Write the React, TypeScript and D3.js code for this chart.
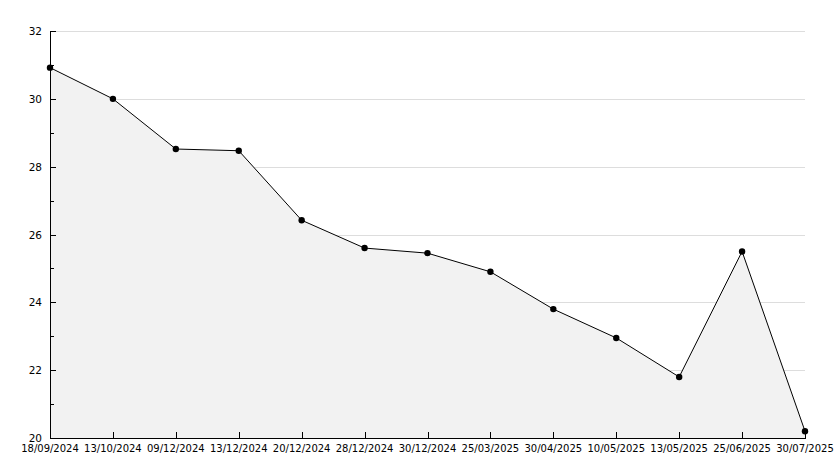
import React from "react";
import * as d3 from "d3";

const categories = ["18/09/2024","13/10/2024","09/12/2024","13/12/2024","20/12/2024","28/12/2024","30/12/2024","25/03/2025","30/04/2025","10/05/2025","13/05/2025","25/06/2025","30/07/2025"];
const values = [30.92, 30.0, 28.52, 28.47, 26.42, 25.6, 25.45, 24.9, 23.8, 22.95, 21.8, 25.5, 20.2];
const yTicks = [20, 22, 24, 26, 28, 30, 32];
const yMinorTicks = [21, 23, 25, 27, 29, 31];

export default function App() {
  const W = 834, H = 468;
  const left = 50, right = 805, top = 31, bottom = 438;
  const x = d3.scalePoint<string>().domain(categories).range([left, right]);
  const y = d3.scaleLinear().domain([20, 32]).range([bottom, top]);
  const pts: [number, number][] = categories.map((c, i) => [x(c)!, y(values[i])]);
  const line = d3.line<[number, number]>().x(d => d[0]).y(d => d[1]);
  const area = d3.area<[number, number]>().x(d => d[0]).y0(bottom).y1(d => d[1]);
  const font = "DejaVu Sans, Verdana, sans-serif";
  return (
    <svg width={W} height={H} style={{ position: "fixed", left: 0, top: 0, background: "#fff" }} shapeRendering="crispEdges">
      {yTicks.map(t => (
        <line key={"g" + t} x1={left} x2={right} y1={Math.round(y(t)) + 0.5} y2={Math.round(y(t)) + 0.5} stroke="#dddddd" />
      ))}
      <path d={area(pts)!} fill="#f2f2f2" stroke="none" />
      <path d={line(pts)!} fill="none" stroke="#000" strokeWidth={1} shapeRendering="auto" />
      {pts.map((p, i) => (
        <circle key={"m" + i} cx={p[0]} cy={p[1]} r={3.2} fill="#000" shapeRendering="auto" />
      ))}
      <line x1={left + 0.5} x2={left + 0.5} y1={top} y2={bottom + 1} stroke="#000" />
      <line x1={left} x2={right + 1} y1={bottom + 0.5} y2={bottom + 0.5} stroke="#000" />
      {yTicks.map(t => (
        <g key={"yt" + t}>
          <line x1={left} x2={left + 6} y1={Math.round(y(t)) + 0.5} y2={Math.round(y(t)) + 0.5} stroke="#000" />
          <text x={42} y={y(t) + 4} textAnchor="end" fontFamily={font} fontSize={10.5} fill="#000">{t}</text>
        </g>
      ))}
      {yMinorTicks.map(t => (
        <line key={"ym" + t} x1={left} x2={left + 4} y1={Math.round(y(t)) + 0.5} y2={Math.round(y(t)) + 0.5} stroke="#000" />
      ))}
      {categories.map(c => (
        <g key={"xt" + c}>
          <line x1={Math.round(x(c)!) + 0.5} x2={Math.round(x(c)!) + 0.5} y1={bottom} y2={bottom - 6} stroke="#000" />
          <text x={x(c)!} y={452} textAnchor="middle" fontFamily={font} fontSize={10} fill="#000">{c}</text>
        </g>
      ))}
    </svg>
  );
}
